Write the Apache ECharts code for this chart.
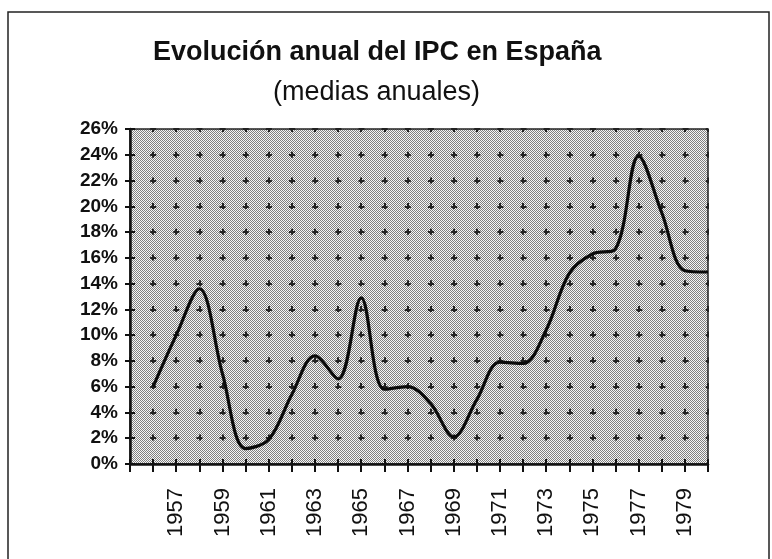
<!DOCTYPE html>
<html>
<head>
<meta charset="utf-8">
<script src="https://cdn.jsdelivr.net/npm/echarts@6/dist/echarts.min.js"></script>
<style>
html,body{margin:0;padding:0;background:#fff;}
#chart{width:772px;height:559px;}
</style>
</head>
<body>
<div id="chart"></div>
<script>
// Data
const years = [1956,1957,1958,1959,1960,1961,1962,1963,1964,1965,1966,1967,1968,1969,1970,1971,1972,1973,1974,1975,1976,1977,1978,1979,1980];
const ipc = [6.0,10.0,13.6,7.0,1.2,1.9,5.4,8.4,6.6,12.9,5.8,6.0,4.7,2.1,5.0,7.9,7.8,10.4,14.8,16.3,16.7,23.9,19.5,15.0,14.9];
const yearLabels = [1957,1959,1961,1963,1965,1967,1969,1971,1973,1975,1977,1979];
const yTicks = [0,2,4,6,8,10,12,14,16,18,20,22,24,26];
const titleText = 'Evolución anual del IPC en España';
const subText = '(medias anuales)';

// halftone-like pattern for the plot background
const pc = document.createElement('canvas');
pc.width = 2; pc.height = 2;
const pctx = pc.getContext('2d');
pctx.fillStyle = '#f6f6f6'; pctx.fillRect(0,0,2,2);
pctx.fillStyle = '#808080'; pctx.fillRect(0,0,1,1); pctx.fillRect(1,1,1,1);

const chart = echarts.init(document.getElementById('chart'), null, {renderer:'canvas'});
const fontFam = '"Liberation Sans", Arial, Helvetica, sans-serif';

const option = {
  animation: false,
  backgroundColor: '#ffffff',
  title: [
    {text: titleText, left: 148, top: 34,
     textStyle:{fontFamily:fontFam, fontSize:27, fontWeight:'bold', color:'#111'}},
    {text: subText, left: 268, top: 74,
     textStyle:{fontFamily:fontFam, fontSize:27, fontWeight:'normal', color:'#111'}}
  ],
  graphic: [
    {type:'rect', shape:{x:8, y:12, width:761, height:600}, style:{fill:'none', stroke:'#222', lineWidth:1.5}, silent:true}
  ],
  grid: {left:130, right:64, top:129, bottom:95, show:true,
         backgroundColor:{image:pc, repeat:'repeat'}, borderColor:'#222', borderWidth:1.5},
  xAxis: [{
    type:'value', min:1955, max:1980, interval:1,
    axisLine:{show:true, lineStyle:{color:'#111', width:2.5}},
    axisTick:{show:true, length:8, lineStyle:{color:'#111', width:2}},
    axisLabel:{rotate:90, margin:24, color:'#111', fontFamily:fontFam, fontSize:22,
      formatter:function(v){return yearLabels.indexOf(v) >= 0 ? String(v) : '';}},
    splitLine:{show:true, lineStyle:{color:'#222', width:2, type:[6,19.7], dashOffset:3}}
  },{
    type:'value', min:1955, max:1980, interval:1, position:'bottom',
    axisLine:{show:false}, axisTick:{show:true, inside:true, length:5, lineStyle:{color:'#111', width:2}},
    axisLabel:{show:false}, splitLine:{show:false}
  }],
  yAxis: [{
    type:'value', min:0, max:26, interval:2,
    axisLine:{show:true, lineStyle:{color:'#111', width:2.5}},
    axisTick:{show:true, length:5, lineStyle:{color:'#111', width:2}},
    axisLabel:{margin:12, color:'#111', fontFamily:fontFam, fontSize:19, fontWeight:'bold',
      formatter:function(v){return yTicks.indexOf(v) >= 0 ? v + '%' : '';}},
    splitLine:{show:true, lineStyle:{color:'#222', width:2, type:[6,17.15], dashOffset:3}}
  },{
    type:'value', min:0, max:26, interval:2, position:'left',
    axisLine:{show:false}, axisTick:{show:true, inside:true, length:5, lineStyle:{color:'#111', width:2}},
    axisLabel:{show:false}, splitLine:{show:false}
  }],
  series: [{
    type:'line', xAxisIndex:0, yAxisIndex:0,
    data: years.map(function(y,i){return [y, ipc[i]];}),
    smooth:0.35, symbol:'none',
    lineStyle:{color:'#0a0a0a', width:3.2}
  }]
};
chart.setOption(option);
</script>
</body>
</html>
